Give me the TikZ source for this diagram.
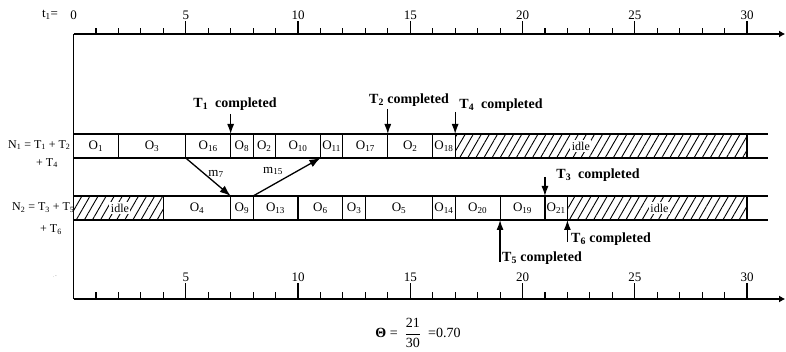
\documentclass[tikz,border=0pt]{standalone}
\usepackage{fontspec}
\setmainfont{Liberation Serif}
\usetikzlibrary{arrows.meta,patterns.meta}
\begin{document}
\begin{tikzpicture}[x=1pt,y=-1pt,
  line width=1.1pt,
  olbl/.style={font=\fontsize{13}{14}\selectfont, inner sep=0pt},
  idlelbl/.style={font=\fontsize{12}{13}\selectfont, fill=white, inner sep=1.5pt},
  hatchfill/.style={pattern={Lines[angle=60,distance=7pt,line width=0.9pt]}},
  donelbl/.style={font=\bfseries\fontsize{14}{16}\selectfont, inner sep=0pt},
  donearr/.style={-{Latex[length=10pt,width=7pt]}, line width=1.2pt},
  msgarr/.style={-{Latex[length=11pt,width=8pt]}, line width=1.3pt},
  axisline/.style={line width=1.3pt, -{Latex[length=6pt,width=7pt]}},
  nlbl/.style={font=\fontsize{12}{13}\selectfont, inner sep=0pt},
  numlbl/.style={font=\fontsize{13}{14}\selectfont, inner sep=1pt}
]
\useasboundingbox (0,0) rectangle (786,352);

\begin{scope}[x=22.45pt, xshift=73.5pt]
  % axes
  \coordinate (ta0) at (0,34);
  \coordinate (taend) at (31.7,34);
  \coordinate (ba0) at (0,299);
  \coordinate (baend) at (31.7,299);
  \draw[axisline] (ta0) -- (taend);
  \draw[line width=1.3pt] (ta0) -- (ba0);
  \draw[axisline] (ba0) -- (baend);
  \foreach \i in {1,...,30} {
    \draw (\i,34) -- (\i,28);
    \draw (\i,299) -- (\i,292);
  }
  \node[numlbl, anchor=south] (tn0) at (0,21) {0};
  \foreach \i in {5,10,...,30} {
    \draw[line width=1.3pt] (\i,34) -- (\i,21) node[numlbl, anchor=south] (tn\i) {\i};
    \draw[line width=1.3pt] (\i,299) -- (\i,283) node[numlbl, anchor=south] (bn\i) {\i};
  }

  % row 1
  \path[hatchfill] (17,134) rectangle (30,158);
  \draw (0,134) -- (30.93,134);
  \draw (0,158) -- (30.93,158);
  \foreach \x in {2,5,7,8,9,11,12,14,16,17,30} \draw (\x,134) -- (\x,158);
  \foreach \a/\b/\c [count=\i] in {0/2/1,2/5/3,5/7/16,7/8/8,8/9/2,9/11/10,11/12/11,12/14/17,14/16/2,16/17/18}
    \node[olbl] (ra\i) at ({(\a+\b)/2},146) {O\textsubscript{\c}};
  \node[idlelbl] (raidle) at (22.6,146) {idle};

  % row 2
  \path[hatchfill] (0,196) rectangle (4,220);
  \path[hatchfill] (22,196) rectangle (30,220);
  \draw (0,196) -- (30.93,196);
  \draw (0,220) -- (30.93,220);
  \foreach \x in {4,7,8,10,12,13,16,17,19,21,22,30} \draw (\x,196) -- (\x,220);
  \foreach \a/\b/\c [count=\i] in {4/7/4,7/8/9,8/10/13,10/12/6,12/13/3,13/16/5,16/17/14,17/19/20,19/21/19,21/22/21}
    \node[olbl] (rb\i) at ({(\a+\b)/2},208) {O\textsubscript{\c}};
  \node[idlelbl] (rbidle1) at (2.07,208) {idle};
  \node[idlelbl] (rbidle2) at (26.1,208) {idle};

  % completion arrows
  \coordinate (c1s) at (7,114);  \coordinate (c1e) at (7,134);
  \coordinate (c2s) at (14,109); \coordinate (c2e) at (14,134);
  \coordinate (c4s) at (17,112); \coordinate (c4e) at (17,134);
  \coordinate (c3s) at (21,177); \coordinate (c3e) at (21,196);
  \coordinate (c5s) at (19,262); \coordinate (c5e) at (19,220);
  \coordinate (c6s) at (22,242); \coordinate (c6e) at (22,220);
  \draw[donearr] (c1s) -- (c1e);
  \draw[donearr] (c2s) -- (c2e);
  \draw[donearr] (c4s) -- (c4e);
  \draw[donearr] (c3s) -- (c3e);
  \draw[donearr] (c5s) -- (c5e);
  \draw[donearr] (c6s) -- (c6e);

  % messages
  \coordinate (m7s) at (5,158);  \coordinate (m7e) at (7,196);
  \coordinate (m15s) at (8,196); \coordinate (m15e) at (11,158);
  \draw[msgarr] (m7s) -- (m7e);
  \draw[msgarr] (m15s) -- (m15e);
\end{scope}

% labels (pixel coordinates)
\node[donelbl] (l1) at (235,104) {T\textsubscript{1}\ \ completed};
\node[donelbl] (l2) at (409,100) {T\textsubscript{2} completed};
\node[donelbl] (l4) at (501,105) {T\textsubscript{4}\ \ completed};
\node[donelbl] (l3) at (598,175) {T\textsubscript{3}\ \ completed};
\node[donelbl] (l5) at (542,258) {T\textsubscript{5} completed};
\node[donelbl] (l6) at (611,239) {T\textsubscript{6} completed};

\node[olbl] (m7) at (216,174) {m\textsubscript{7}};
\node[olbl] (m15) at (273,171) {m\textsubscript{15}};

\node[nlbl, anchor=east] (n1) at (71,145) {N\textsubscript{1} = T\textsubscript{1} + T\textsubscript{2}};
\node[nlbl] (n1b) at (47,163) {+ T\textsubscript{4}};
\node[nlbl, anchor=east] (n2) at (75,208) {N\textsubscript{2} = T\textsubscript{3} + T\textsubscript{5}};
\node[nlbl] (n2b) at (51,230) {+ T\textsubscript{6}};
\node[numlbl] (tl) at (50,15) {t\textsubscript{1}=};
\node[font=\tiny, text=gray] (dash) at (55,277) {.\,-};

\node[font=\fontsize{14}{16}\selectfont] (theta) at (418,333)
  {{\bfseries Θ}\ =\ \ $\displaystyle\frac{\mbox{21}}{\mbox{30}}$\ \ =0.70};
\end{tikzpicture}
\end{document}
